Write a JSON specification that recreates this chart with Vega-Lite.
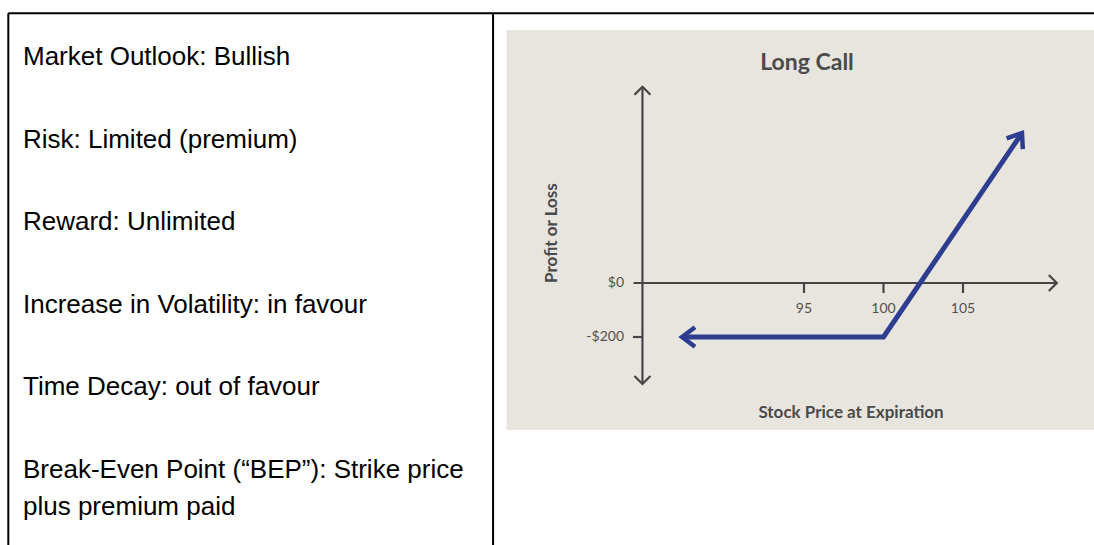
{
  "$schema": "https://vega.github.io/schema/vega-lite/v6.json",
  "width": 1094,
  "height": 545,
  "padding": 0,
  "autosize": {"type": "none"},
  "background": "white",
  "config": {"view": {"stroke": null}},
  "datasets": {
    "rows": [
      {"row": 0, "text": "Market Outlook: Bullish"},
      {"row": 1, "text": "Risk: Limited (premium)"},
      {"row": 2, "text": "Reward: Unlimited"},
      {"row": 3, "text": "Increase in Volatility: in favour"},
      {"row": 4, "text": "Time Decay: out of favour"},
      {"row": 5, "text": "Break-Even Point (“BEP”): Strike price\nplus premium paid"}
    ],
    "payoff": [
      {"price": 87.33, "pl": -200},
      {"price": 100, "pl": -200},
      {"price": 108.71, "pl": 555.6}
    ],
    "xticks": [
      {"price": 95, "label": "95"},
      {"price": 100, "label": "100"},
      {"price": 105, "label": "105"}
    ],
    "yticks": [
      {"pl": 0, "label": "$0"},
      {"pl": -200, "label": "-$200"}
    ]
  },
  "layer": [
    {
      "layer": [
        {
          "data": {"values": [{}]},
          "mark": {"type": "rule", "stroke": "#000000", "strokeWidth": 2},
          "encoding": {
            "x": {"datum": 0.76, "type": "quantitative", "scale": {"domain": [0, 100], "nice": false, "zero": false}, "axis": null},
            "x2": {"datum": 100},
            "y": {"datum": -0.626, "type": "quantitative", "scale": {"domain": [-0.787, 5.811], "nice": false, "zero": false, "reverse": true}, "axis": null}
          }
        },
        {
          "data": {"values": [{}]},
          "mark": {"type": "rule", "stroke": "#000000", "strokeWidth": 2},
          "encoding": {
            "x": {"datum": 0.76, "type": "quantitative"},
            "y": {"datum": -0.626, "type": "quantitative"},
            "y2": {"datum": 5.811}
          }
        },
        {
          "data": {"values": [{}]},
          "mark": {"type": "rule", "stroke": "#000000", "strokeWidth": 2},
          "encoding": {
            "x": {"datum": 45.07, "type": "quantitative"},
            "y": {"datum": -0.626, "type": "quantitative"},
            "y2": {"datum": 5.811}
          }
        },
        {
          "data": {"name": "rows"},
          "mark": {"type": "text", "align": "left", "baseline": "alphabetic", "font": "Liberation Sans", "fontSize": 26, "color": "#000000", "lineBreak": "\n", "lineHeight": 37},
          "encoding": {
            "x": {"datum": 2.1, "type": "quantitative"},
            "y": {"field": "row", "type": "quantitative"},
            "text": {"field": "text"}
          }
        }
      ]
    },
    {
      "layer": [
        {
          "data": {"values": [{}]},
          "mark": {"type": "rect", "color": "#e8e5df"},
          "encoding": {
            "x": {"datum": 76.29, "type": "quantitative", "scale": {"domain": [44.434, 113.239], "nice": false, "zero": false}, "axis": null},
            "x2": {"datum": 113.3},
            "y": {"datum": 937, "type": "quantitative", "scale": {"domain": [-970.37, 1048.15], "nice": false, "zero": false}, "axis": null},
            "y2": {"datum": -544.4}
          }
        },
        {
          "data": {"values": [{}]},
          "mark": {"type": "rule", "stroke": "#454545", "strokeWidth": 2.2},
          "encoding": {
            "x": {"datum": 84.84, "type": "quantitative"},
            "y": {"datum": 725, "type": "quantitative"},
            "y2": {"datum": -372}
          }
        },
        {
          "data": {"values": [{}]},
          "mark": {"type": "rule", "stroke": "#454545", "strokeWidth": 2.2},
          "encoding": {
            "x": {"datum": 84.28, "type": "quantitative"},
            "x2": {"datum": 110.85},
            "y": {"datum": 0, "type": "quantitative"}
          }
        },
        {
          "data": {"values": [{}]},
          "mark": {"type": "rule", "stroke": "#454545", "strokeWidth": 2.2},
          "encoding": {
            "x": {"datum": 84.24, "type": "quantitative"},
            "x2": {"datum": 84.84},
            "y": {"datum": -200, "type": "quantitative"}
          }
        },
        {
          "data": {"name": "xticks"},
          "mark": {"type": "rule", "stroke": "#454545", "strokeWidth": 2.2},
          "encoding": {
            "x": {"field": "price", "type": "quantitative"},
            "y": {"datum": 0, "type": "quantitative"},
            "y2": {"datum": -37}
          }
        },
        {
          "data": {"name": "xticks"},
          "mark": {"type": "text", "font": "Lato", "fontSize": 14, "color": "#505050", "baseline": "middle", "align": "center"},
          "encoding": {
            "x": {"field": "price", "type": "quantitative"},
            "y": {"datum": -96, "type": "quantitative"},
            "text": {"field": "label"}
          }
        },
        {
          "data": {"name": "yticks"},
          "mark": {"type": "text", "font": "Lato", "fontSize": 14, "color": "#505050", "baseline": "middle", "align": "right"},
          "encoding": {
            "x": {"datum": 83.68, "type": "quantitative"},
            "y": {"field": "pl", "type": "quantitative"},
            "text": {"field": "label"}
          }
        },
        {
          "data": {"values": [{}]},
          "mark": {"type": "point", "shape": "M-1,1L0,0L1,1", "filled": false, "size": 256, "stroke": "#454545", "strokeWidth": 2.2, "opacity": 1, "angle": 0},
          "encoding": {
            "x": {"datum": 84.84, "type": "quantitative"},
            "y": {"datum": 727, "type": "quantitative"}
          }
        },
        {
          "data": {"values": [{}]},
          "mark": {"type": "point", "shape": "M-1,1L0,0L1,1", "filled": false, "size": 256, "stroke": "#454545", "strokeWidth": 2.2, "opacity": 1, "angle": 180},
          "encoding": {
            "x": {"datum": 84.84, "type": "quantitative"},
            "y": {"datum": -374, "type": "quantitative"}
          }
        },
        {
          "data": {"values": [{}]},
          "mark": {"type": "point", "shape": "M-1,1L0,0L1,1", "filled": false, "size": 256, "stroke": "#454545", "strokeWidth": 2.2, "opacity": 1, "angle": 90},
          "encoding": {
            "x": {"datum": 110.9, "type": "quantitative"},
            "y": {"datum": 0, "type": "quantitative"}
          }
        },
        {
          "data": {"name": "payoff"},
          "mark": {"type": "line", "color": "#2e3d8f", "strokeWidth": 5, "strokeJoin": "miter"},
          "encoding": {
            "x": {"field": "price", "type": "quantitative"},
            "y": {"field": "pl", "type": "quantitative"}
          }
        },
        {
          "data": {"name": "payoff"},
          "transform": [{"filter": "datum.price < 100"}],
          "mark": {"type": "point", "shape": "M-0.75,1L0,0L0.75,1", "filled": false, "size": 676, "stroke": "#2e3d8f", "strokeWidth": 4.5, "opacity": 1, "angle": 270},
          "encoding": {
            "x": {"field": "price", "type": "quantitative"},
            "y": {"field": "pl", "type": "quantitative"}
          }
        },
        {
          "data": {"name": "payoff"},
          "transform": [{"filter": "datum.price > 100"}],
          "mark": {"type": "point", "shape": "M-0.75,1L0,0L0.75,1", "filled": false, "size": 676, "stroke": "#2e3d8f", "strokeWidth": 4.5, "opacity": 1, "angle": 34},
          "encoding": {
            "x": {"field": "price", "type": "quantitative"},
            "y": {"field": "pl", "type": "quantitative"}
          }
        },
        {
          "data": {"values": [{"title": "Long Call"}]},
          "mark": {"type": "text", "font": "Lato", "fontSize": 23, "fontWeight": "bold", "color": "#4a4a4a", "baseline": "alphabetic", "align": "center"},
          "encoding": {
            "x": {"datum": 95.19, "type": "quantitative"},
            "y": {"datum": 789, "type": "quantitative"},
            "text": {"field": "title"}
          }
        },
        {
          "data": {"values": [{"title": "Profit or Loss"}]},
          "mark": {"type": "text", "font": "Lato", "fontSize": 17, "fontWeight": "bold", "color": "#4a4a4a", "baseline": "middle", "align": "center", "angle": 270},
          "encoding": {
            "x": {"datum": 79.15, "type": "quantitative"},
            "y": {"datum": 185, "type": "quantitative"},
            "text": {"field": "title"}
          }
        },
        {
          "data": {"values": [{"title": "Stock Price at Expiration"}]},
          "mark": {"type": "text", "font": "Lato", "fontSize": 17, "fontWeight": "bold", "color": "#4a4a4a", "baseline": "middle", "align": "center"},
          "encoding": {
            "x": {"datum": 97.96, "type": "quantitative"},
            "y": {"datum": -481, "type": "quantitative"},
            "text": {"field": "title"}
          }
        }
      ]
    }
  ],
  "resolve": {"scale": {"x": "independent", "y": "independent"}}
}
